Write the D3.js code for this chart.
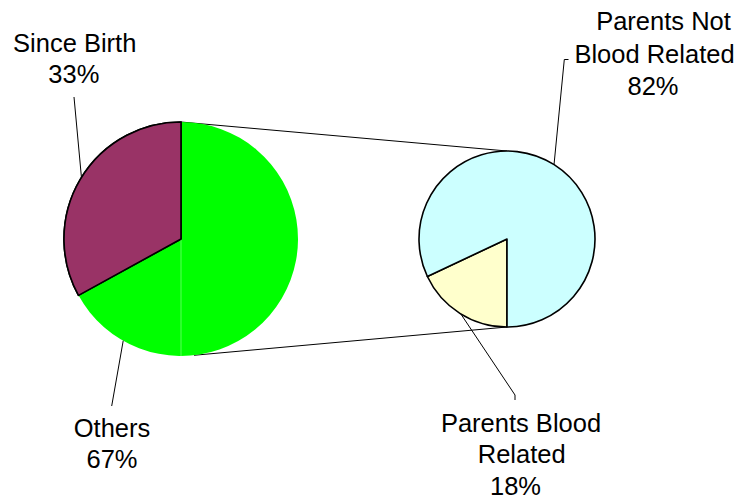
<!DOCTYPE html>
<html lang="en">
<head>
<meta charset="UTF-8">
<title>Pie of pie</title>
<script src="https://d3js.org/d3.v7.min.js"></script>
<style>
    body { margin: 0; background: #fff; }
    svg { display: block; }
    .lbl { font-family: "Liberation Sans", Arial, sans-serif; font-size: 25.5px; fill: #000; }
    .leader, .connector { stroke: #000; stroke-width: 1; fill: none; }
</style>
</head>
<body>
<svg width="742" height="503"></svg>
<script>
    // data
    const mainLabels = ["Others", "Since Birth"];
    const mainValues = [67, 33];
    const mainColors = ["#00ff00", "#993366"];
    const subLabels = ["Parents Blood Related", "Parents Not Blood Related"];
    const subValues = [18, 82];
    const subColors = ["#ffffcc", "#ccffff"];

    const svg = d3.select("svg");

    // layout
    const main = { cx: 181, cy: 239, r: 117 };
    const sub = { cx: 507, cy: 239, r: 88 };
    const deg = Math.PI / 180;

    function pt(p, a, r) {
        const rr = r === undefined ? p.r : r;
        return [p.cx + rr * Math.sin(a), p.cy - rr * Math.cos(a)];
    }

    const mainPie = d3.pie().sort(null).startAngle(0).endAngle(2 * Math.PI)(mainValues);
    const subPie = d3.pie().sort(null).startAngle(Math.PI).endAngle(3 * Math.PI)(subValues);

    // connectors (drawn first)
    const conn = [
        [pt(main, 0), pt(sub, 0)],
        [pt(main, 173.6 * deg), pt(sub, Math.PI)]
    ];
    svg.selectAll("line.connector")
        .data(conn)
        .enter()
        .append("line")
        .attr("class", "connector")
        .attr("x1", d => d[0][0]).attr("y1", d => d[0][1])
        .attr("x2", d => d[1][0]).attr("y2", d => d[1][1]);

    // main pie
    const mainArc = d3.arc().innerRadius(0).outerRadius(main.r);
    const gMain = svg.append("g").attr("transform", `translate(${main.cx},${main.cy})`);
    gMain.selectAll("path")
        .data(mainPie)
        .enter()
        .append("path")
        .attr("d", mainArc)
        .attr("fill", (d, i) => mainColors[i])
        .attr("stroke", (d, i) => i === 1 ? "#000" : "none")
        .attr("stroke-width", 1.6)
        .attr("stroke-linejoin", "round");
    // faint seam inside the green slice
    gMain.append("line")
        .attr("x1", 0).attr("y1", 0)
        .attr("x2", 0).attr("y2", main.r)
        .attr("stroke", "rgba(255,255,255,0.35)")
        .attr("stroke-width", 1);
    // redraw maroon on top so its outline is complete
    gMain.append("path")
        .attr("d", mainArc(mainPie[1]))
        .attr("fill", mainColors[1])
        .attr("stroke", "#000")
        .attr("stroke-width", 1.6)
        .attr("stroke-linejoin", "round");

    // sub pie
    const subArc = d3.arc().innerRadius(0).outerRadius(sub.r);
    const gSub = svg.append("g").attr("transform", `translate(${sub.cx},${sub.cy})`);
    gSub.selectAll("path")
        .data(subPie)
        .enter()
        .append("path")
        .attr("d", subArc)
        .attr("fill", (d, i) => subColors[i])
        .attr("stroke", "#000")
        .attr("stroke-width", 1.6)
        .attr("stroke-linejoin", "round");

    // labels
    const labels = [
        { p: main, a: 301.7 * deg, lines: ["Since Birth", mainValues[1] + "%"],
          pts: [[74, 97]], xs: [74.7, 73.8], y0: 52.3, lh: 31 },
        { p: main, a: 209.6 * deg, lines: ["Others", mainValues[0] + "%"],
          pts: [[111.7, 406]], xs: [112, 112], y0: 436.7, lh: 31.3 },
        { p: sub, a: 32.3 * deg, lines: ["Parents Not", "Blood Related", subValues[1] + "%"],
          pts: [[564.3, 59.5], [568.5, 59.5]], xs: [663.5, 654.5, 653], y0: 30, lh: 32.5 },
        { p: sub, a: 211.7 * deg, lines: ["Parents Blood", "Related", subValues[0] + "%"],
          pts: [[515, 395], [515, 400]], xs: [521, 521.7, 515.5], y0: 431.7, lh: 31.7 }
    ];

    svg.selectAll("path.leader")
        .data(labels)
        .enter()
        .append("path")
        .attr("class", "leader")
        .attr("d", d => d3.line()([pt(d.p, d.a)].concat(d.pts)));

    labels.forEach(d => {
        svg.append("text")
            .attr("class", "lbl")
            .attr("text-anchor", "middle")
            .selectAll("tspan")
            .data(d.lines)
            .enter()
            .append("tspan")
            .attr("x", (t, i) => d.xs[i])
            .attr("y", (t, i) => d.y0 + i * d.lh)
            .text(t => t);
    });
</script>
</body>
</html>
